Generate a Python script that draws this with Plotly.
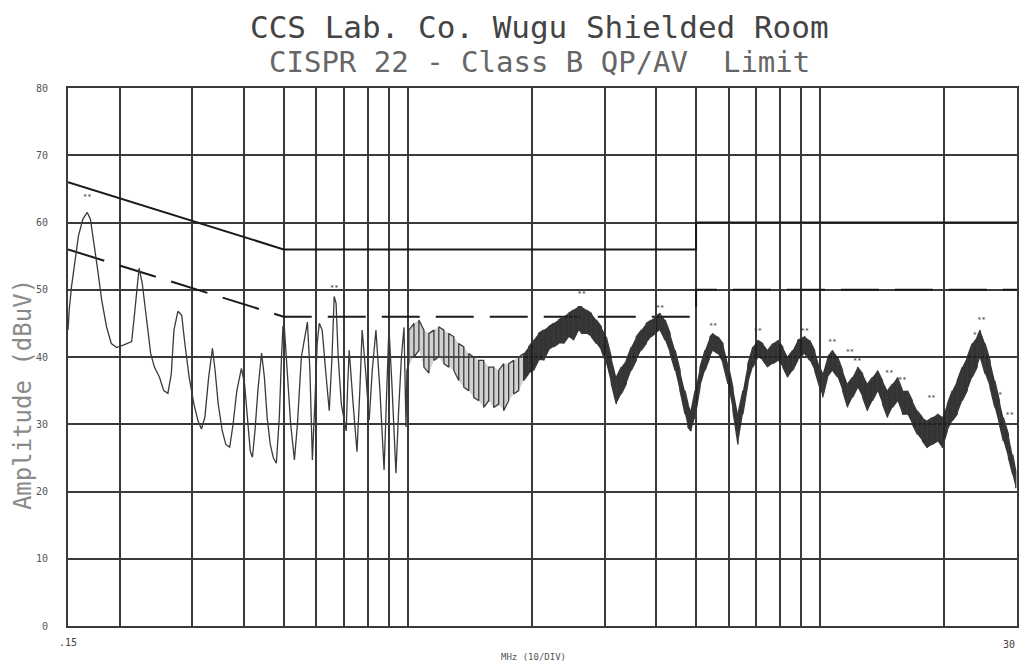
import plotly.graph_objects as go

# ---- Data (frequency in MHz, amplitude in dBuV) ----
low_freq = [0.150, 0.151, 0.153, 0.156, 0.159, 0.163, 0.167, 0.170, 0.173, 0.177,
            0.181, 0.186, 0.191, 0.197, 0.205, 0.214, 0.218, 0.223, 0.227, 0.233,
            0.238, 0.243, 0.250, 0.256, 0.262, 0.267, 0.271, 0.277, 0.283, 0.288,
            0.295, 0.303, 0.310, 0.316, 0.322, 0.329, 0.336, 0.341, 0.347, 0.355,
            0.362, 0.370, 0.377, 0.385, 0.395, 0.402, 0.409, 0.415, 0.420, 0.426,
            0.433, 0.442, 0.449, 0.456, 0.464, 0.472, 0.480, 0.488, 0.494, 0.498,
            0.502, 0.510, 0.520, 0.531, 0.540, 0.552, 0.571, 0.579, 0.587, 0.595,
            0.603, 0.610, 0.620, 0.632, 0.645, 0.655, 0.663, 0.670, 0.678, 0.690,
            0.709, 0.715, 0.721, 0.737, 0.753, 0.765, 0.775, 0.790, 0.806, 0.820,
            0.837, 0.856, 0.876, 0.888, 0.900, 0.915, 0.936, 0.950, 0.965, 0.979,
            0.985, 0.990, 0.995]
low_amp = [44.0, 47.0, 50.5, 54.5, 58.0, 60.5, 61.5, 60.5, 57.5, 53.0,
           48.5, 44.5, 42.0, 41.4, 41.8, 42.3, 47.0, 53.2, 51.0, 45.0,
           40.5, 38.5, 37.0, 35.0, 34.6, 37.5, 44.0, 46.8, 46.2, 42.0,
           37.0, 33.0, 30.5, 29.3, 31.0, 37.0, 41.3, 38.0, 33.0, 29.0,
           27.0, 26.6, 30.0, 35.0, 38.3, 36.0, 30.0, 26.0, 25.1, 29.0,
           35.0, 40.6, 37.0, 31.0, 27.0, 25.0, 24.2, 31.0, 40.0, 44.5,
           44.4, 38.0, 30.0, 24.7, 30.0, 40.0, 45.2, 38.0, 24.7, 33.0,
           42.0, 45.0, 44.0, 38.0, 32.0, 40.0, 49.0, 48.0, 40.0, 33.0,
           29.0, 36.0, 41.0, 33.0, 25.9, 35.0, 44.0, 38.0, 30.6, 38.0,
           44.0, 35.0, 23.2, 34.0, 44.4, 36.0, 22.7, 32.0, 40.0, 44.4,
           38.0, 29.6, 38.0]

# dense sweep section: per display bucket, max and min reading
hf_freq = [1.006, 1.035, 1.064, 1.094, 1.125, 1.157, 1.189, 1.223, 1.257, 1.293,
           1.329, 1.367, 1.405, 1.445, 1.486, 1.528, 1.571, 1.616, 1.661, 1.708,
           1.756, 1.806, 1.857, 1.909, 1.963, 2.018, 2.075, 2.134, 2.194, 2.256,
           2.319, 2.385, 2.452, 2.521, 2.592, 2.636, 2.710, 2.787, 2.865, 2.946,
           3.029, 3.115, 3.203, 3.294, 3.387, 3.482, 3.581, 3.682, 3.785, 3.892,
           3.979, 4.092, 4.207, 4.326, 4.448, 4.573, 4.701, 4.781, 4.862, 4.971,
           5.112, 5.256, 5.405, 5.496, 5.651, 5.810, 5.974, 6.142, 6.316, 6.494,
           6.677, 6.865, 7.059, 7.258, 7.463, 7.675, 7.890, 8.114, 8.342, 8.577,
           8.820, 9.170, 9.429, 9.694, 9.969, 10.14, 10.42, 10.72, 11.02, 11.33,
           11.65, 11.98, 12.32, 12.67, 13.02, 13.39, 13.77, 14.16, 14.56, 14.97,
           15.39, 15.83, 16.27, 16.73, 17.20, 17.69, 18.19, 18.70, 19.23, 19.77,
           20.33, 20.90, 21.49, 22.10, 22.72, 23.36, 24.02, 24.43, 25.10, 25.80,
           26.50, 27.20, 27.80, 28.60, 29.30, 29.80]
hf_max = [44.0, 45.0, 45.5, 44.0, 43.5, 44.0, 44.5, 44.0, 43.5, 43.0,
          42.0, 41.5, 40.5, 40.0, 39.5, 39.5, 38.5, 38.5, 38.0, 39.0,
          39.0, 39.5, 40.0, 40.5, 41.5, 42.5, 43.5, 44.0, 44.5, 45.0,
          45.5, 46.0, 46.5, 47.0, 47.5, 47.5, 47.0, 46.5, 45.5, 44.5,
          43.0, 40.0, 37.0, 38.5, 39.5, 41.5, 43.0, 44.0, 45.0, 45.5,
          46.0, 46.5, 45.5, 43.5, 41.0, 38.0, 35.0, 33.0, 32.0, 35.0,
          38.5, 41.0, 43.0, 43.5, 43.0, 42.0, 39.0, 35.5, 31.5, 35.0,
          39.0, 41.5, 42.5, 42.0, 41.0, 42.0, 42.5, 41.5, 40.0, 41.0,
          42.5, 43.0, 42.5, 41.0, 38.5, 37.5, 40.0, 41.0, 40.0, 38.0,
          36.0, 37.0, 38.5, 37.5, 36.0, 37.0, 38.0, 36.5, 35.0, 36.0,
          37.0, 35.0, 35.0, 33.5, 32.0, 31.0, 30.5, 31.0, 31.5, 31.0,
          33.0, 35.0, 36.5, 38.5, 40.0, 42.0, 43.0, 44.0, 42.0, 39.5,
          36.5, 33.5, 31.0, 28.5, 25.5, 23.0]
hf_min = [39.0, 40.0, 41.0, 38.5, 37.6, 39.5, 40.0, 39.0, 38.5, 38.0,
          36.5, 35.5, 35.0, 34.0, 33.5, 32.5, 33.5, 32.5, 33.0, 32.0,
          33.5, 34.5, 35.0, 36.5, 37.5, 38.0, 39.5, 39.5, 41.0, 41.5,
          42.0, 42.0, 43.0, 42.5, 44.0, 43.5, 43.5, 43.0, 42.0, 41.0,
          39.0, 36.0, 33.0, 34.5, 36.0, 38.0, 39.5, 41.0, 42.0, 43.0,
          43.5, 44.0, 42.5, 40.5, 38.0, 35.0, 31.5, 29.5, 29.0, 31.0,
          35.5, 38.0, 40.0, 41.0, 40.5, 39.0, 36.0, 32.0, 27.0, 31.5,
          36.0, 38.5, 40.0, 39.5, 38.5, 39.0, 39.5, 38.5, 37.0, 38.0,
          39.5, 40.5, 39.5, 38.0, 35.5, 34.0, 37.0, 38.0, 37.0, 35.0,
          32.5, 34.0, 35.5, 34.0, 32.0, 33.5, 35.0, 33.0, 31.0, 32.5,
          33.5, 31.5, 31.5, 30.0, 28.5, 27.5, 26.5, 27.0, 27.5, 26.5,
          29.0, 30.5, 31.5, 33.5, 35.0, 37.0, 38.5, 40.0, 37.5, 35.5,
          32.5, 30.0, 27.5, 25.0, 22.5, 20.5]

# CISPR 22 Class B limits
qp_freq = [0.15, 0.5, 5.0, 5.0, 30.0]
qp_limit = [66, 56, 56, 60, 60]
av_freq = [0.15, 0.5, 5.0, 5.0, 30.0]
av_limit = [56, 46, 46, 50, 50]

# peak markers (frequency, label level)
mark_freq = [0.167, 0.663, 2.64, 4.09, 5.50, 7.06, 9.17, 10.7, 11.8, 12.3,
             14.7, 15.8, 18.6, 24.0, 24.6, 27.0, 28.8]
mark_level = [63.8, 50.2, 49.3, 47.2, 44.6, 43.8, 43.8, 42.2, 40.7, 39.3,
              37.6, 36.6, 33.9, 43.3, 45.4, 34.3, 31.4]

x_grid = [0.15, 0.2, 0.3, 0.4, 0.5, 0.6, 0.7, 0.8, 0.9, 1, 2, 3, 4, 5, 6, 7, 8, 9, 10, 20, 30]
x_text = [".15"] + [""] * 20
y_ticks = [0, 10, 20, 30, 40, 50, 60, 70, 80]
y_text = ["0", "10", "20", "30", "40", "50", "60", "70", "80"]

# ---- build the swept trace path ----
trace_x = list(low_freq)
trace_y = list(low_amp)
for i, f in enumerate(hf_freq):
    trace_x += [f, f]
    if i % 2 == 0:
        trace_y += [hf_min[i], hf_max[i]]
    else:
        trace_y += [hf_max[i], hf_min[i]]


def band(f_lo, f_hi):
    idx = [i for i, f in enumerate(hf_freq) if f_lo <= f < f_hi]
    xs = [hf_freq[i] for i in idx] + [hf_freq[i] for i in reversed(idx)]
    ys = [hf_max[i] for i in idx] + [hf_min[i] for i in reversed(idx)]
    return xs, ys


fig = go.Figure()
fig.add_trace(go.Scatter(x=qp_freq, y=qp_limit, mode="lines",
                         line=dict(color="#1a1a1a", width=2), hoverinfo="skip"))
fig.add_trace(go.Scatter(x=av_freq, y=av_limit, mode="lines",
                         line=dict(color="#1a1a1a", width=2, dash="38px,16px"), hoverinfo="skip"))
bx, by = band(1.0, 1.95)
fig.add_trace(go.Scatter(x=bx, y=by, mode="lines", fill="toself",
                         fillcolor="rgba(120,120,120,0.35)", line=dict(width=0),
                         hoverinfo="skip"))
bx, by = band(1.9, 31)
fig.add_trace(go.Scatter(x=bx, y=by, mode="lines", fill="toself",
                         fillcolor="rgba(30,30,30,0.9)", line=dict(width=0),
                         hoverinfo="skip"))
fig.add_trace(go.Scatter(x=trace_x, y=trace_y, mode="lines",
                         line=dict(color="#3a3a3a", width=1.3), hoverinfo="skip"))
fig.add_trace(go.Scatter(x=mark_freq, y=mark_level, mode="text", text=["**"] * len(mark_freq),
                         textfont=dict(size=7, color="#333333", family="DejaVu Sans Mono"),
                         hoverinfo="skip"))

# The page body has an 8px margin: the figure is sized to fit the window without scrollbars.
fig.update_layout(
    width=1011, height=656,
    margin=dict(l=60, r=0, t=80, b=38),
    paper_bgcolor="white", plot_bgcolor="white",
    showlegend=False,
    font=dict(family="DejaVu Sans Mono", color="#555555"),
    xaxis=dict(type="log", range=[-0.82391, 1.47712],
               tickmode="array", tickvals=x_grid, ticktext=x_text,
               showgrid=True, gridcolor="#3a3a3a", gridwidth=1.5,
               zeroline=False, showline=True, linecolor="#3a3a3a", linewidth=2, mirror=True,
               ticks="", tickfont=dict(size=10, color="#444444"), ticklabelstandoff=6),
    yaxis=dict(range=[0, 80], tickmode="array", tickvals=y_ticks, ticktext=y_text,
               showgrid=True, gridcolor="#3a3a3a", gridwidth=1.5,
               zeroline=False, showline=True, linecolor="#3a3a3a", linewidth=2, mirror=True,
               ticks="", tickfont=dict(size=10, color="#555555"), ticklabelstandoff=16),
)

# right-end frequency label (kept inside the figure edge)
fig.add_annotation(text="30", xref="paper", yref="paper", x=1.0, y=-0.034,
                   xanchor="right", yanchor="middle", showarrow=False,
                   font=dict(size=10, color="#444444", family="DejaVu Sans Mono"))
fig.add_annotation(text="CCS Lab. Co. Wugu Shielded Room", xref="paper", yref="paper",
                   x=0.497, y=1.1135, xanchor="center", yanchor="middle", showarrow=False,
                   font=dict(size=31, color="#444444", family="DejaVu Sans Mono"))
fig.add_annotation(text="CISPR 22 - Class B QP/AV  Limit", xref="paper", yref="paper",
                   x=0.497, y=1.049, xanchor="center", yanchor="middle", showarrow=False,
                   font=dict(size=29, color="#666666", family="DejaVu Sans Mono"))
fig.add_annotation(text="Amplitude (dBuV)", xref="paper", yref="paper",
                   x=-0.048, y=0.43, xanchor="center", yanchor="middle", showarrow=False,
                   textangle=-90, font=dict(size=24, color="#8a8a8a", family="DejaVu Sans Mono"))
fig.add_annotation(text="MHz (10/DIV)", xref="paper", yref="paper",
                   x=0.49, y=-0.058, xanchor="center", yanchor="middle", showarrow=False,
                   font=dict(size=9, color="#555555", family="DejaVu Sans Mono"))

fig.write_html("out.html")
